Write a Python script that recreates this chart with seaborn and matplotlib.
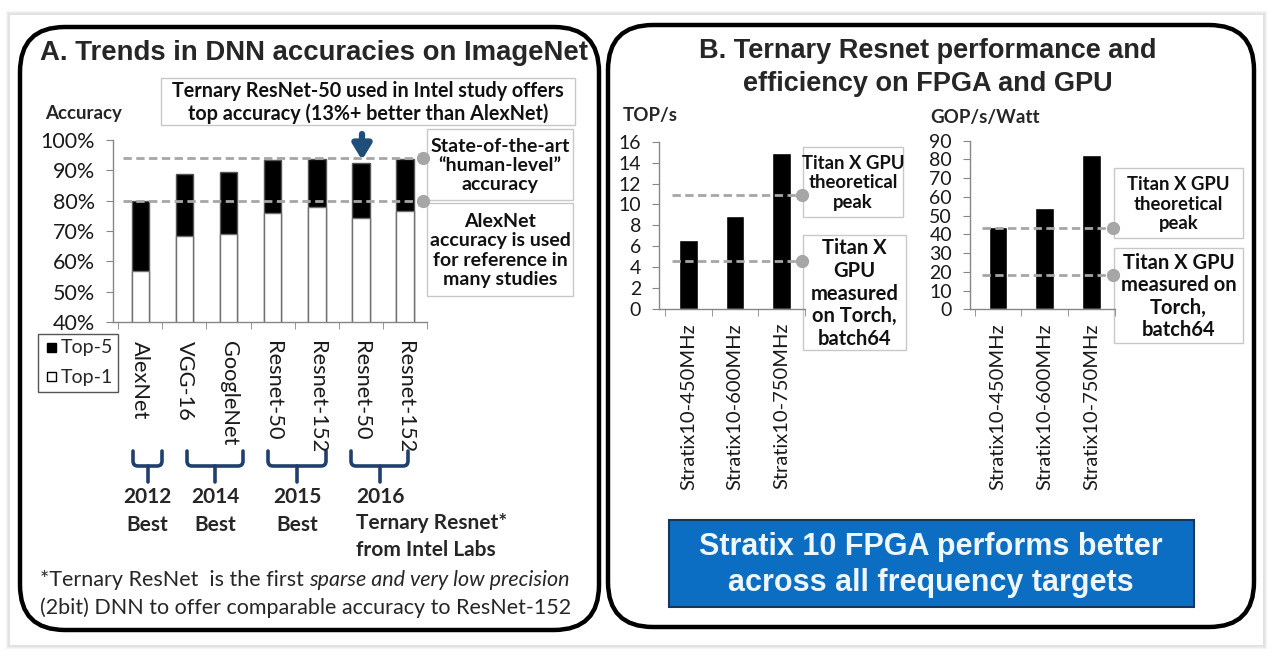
import numpy as np
import pandas as pd
import matplotlib
matplotlib.use("Agg")
import matplotlib.pyplot as plt
import seaborn as sns
from matplotlib.patches import Rectangle, FancyBboxPatch, PathPatch
from matplotlib.path import Path
from matplotlib.ticker import FuncFormatter

# ---------------- data ----------------
models = ["AlexNet", "VGG-16", "GoogleNet", "Resnet-50", "Resnet-152", "Resnet-50", "Resnet-152"]
model_keys = ["AlexNet", "VGG-16", "GoogleNet", "Resnet-50", "Resnet-152", "T-Resnet-50", "T-Resnet-152"]
top1 = [0.568, 0.683, 0.690, 0.760, 0.779, 0.742, 0.767]
top5 = [0.800, 0.888, 0.893, 0.933, 0.938, 0.924, 0.936]
human_level = 0.94
alexnet_ref = 0.80

fpga = ["Stratix10-450MHz", "Stratix10-600MHz", "Stratix10-750MHz"]
tops = [6.6, 8.9, 14.9]
tops_peak = 10.9
tops_measured = 4.6
gops_watt = [44.1, 53.9, 82.3]
gops_peak = 43.5
gops_measured = 18.3

sns.set_style("white")
CAL = ["Lato", "DejaVu Sans"]
ARIAL = ["Liberation Sans", "DejaVu Sans"]
plt.rcParams["font.family"] = CAL
GRAY = "#a6a6a6"
AXC = "#868686"
NAVY = "#1f3f6e"

W, H = 1280, 660
fig = plt.figure(figsize=(12.8, 6.6), dpi=100)
fig.patch.set_facecolor("white")

bg = fig.add_axes([0, 0, 1, 1], zorder=0)
bg.set_xlim(0, W)
bg.set_ylim(H, 0)
bg.axis("off")


def px_axes(x0, y0, x1, y1):
    return fig.add_axes([x0 / W, 1 - y1 / H, (x1 - x0) / W, (y1 - y0) / H], zorder=2)


# card + shadow
for i, c in enumerate(["#f4f4f4", "#ececec", "#e2e2e2"]):
    d = 4 - i
    bg.add_patch(Rectangle((10 - d, 15 - d), 1253 + 2 * d, 630 + 2 * d, color=c, lw=0))
bg.add_patch(Rectangle((10, 15), 1253, 630, color="white", lw=0))

# panels
for x0, y0, x1, y1 in [(20, 27, 599, 630), (608, 25, 1254, 627)]:
    bg.add_patch(FancyBboxPatch((x0, y0), x1 - x0, y1 - y0,
                                boxstyle="round,pad=0,rounding_size=45",
                                fc="none", ec="black", lw=3.2))


def note_box(x0, y0, x1, y1, lines, size=12.5):
    bg.add_patch(Rectangle((x0, y0), x1 - x0, y1 - y0, fc="white", ec="#c8c8c8", lw=1))
    bg.text((x0 + x1) / 2, (y0 + y1) / 2 + 1, "\n".join(lines), ha="center", va="center",
            fontsize=size, fontweight="bold", linespacing=1.16, color="#111111")


def ref_line(ax, x0, x1, y):
    ax.plot([x0, x1], [y, y], ls=(0, (3, 1.6)), color=GRAY, lw=2, clip_on=False, zorder=5)
    ax.plot([x1], [y], "o", color=GRAY, ms=8.5, clip_on=False, zorder=6)


def style_axes(ax, labelsize, pad):
    for s in ["top", "right"]:
        ax.spines[s].set_visible(False)
    for s in ["left", "bottom"]:
        ax.spines[s].set_color(AXC)
        ax.spines[s].set_linewidth(1)
    ax.set_facecolor("none")
    ax.tick_params(axis="y", which="major", direction="out", length=5, color=AXC,
                   labelsize=labelsize, labelcolor="#1a1a1a", pad=pad, left=True)
    ax.tick_params(axis="x", which="major", length=0)
    ax.tick_params(axis="x", which="minor", direction="out", length=5, color=AXC, bottom=True)
    ax.set_xlabel("")
    ax.set_ylabel("")


def brace(x0, x1, ytop=451, ymid=466, ybot=482, r=5):
    xc = (x0 + x1) / 2
    verts = [(x0, ytop), (x0, ymid - r), (x0, ymid), (x0 + r, ymid),
             (x1 - r, ymid), (x1, ymid), (x1, ymid - r), (x1, ytop)]
    codes = [Path.MOVETO, Path.LINETO, Path.CURVE3, Path.CURVE3,
             Path.LINETO, Path.CURVE3, Path.CURVE3, Path.LINETO]
    bg.add_patch(PathPatch(Path(verts, codes), fc="none", ec=NAVY, lw=2.6, capstyle="round"))
    bg.plot([xc, xc], [ymid, ybot], color=NAVY, lw=2.6)


# ---------------- panel A ----------------
bg.text(40, 53, "A. Trends in DNN accuracies on ImageNet", fontsize=19.8, fontweight="bold",
        family=ARIAL, ha="left", va="center")

df_acc = pd.DataFrame({"model": model_keys, "top1": top1, "top5": top5})
axA = px_axes(113, 140, 427, 322)
sns.barplot(data=df_acc, x="model", y="top5", color="black", saturation=1, width=0.4,
            edgecolor="#555555", linewidth=1, ax=axA)
sns.barplot(data=df_acc, x="model", y="top1", color="white", saturation=1, width=0.4,
            edgecolor="#6f6f6f", linewidth=1, ax=axA)
axA.set_xlim(-0.62, 6.5)
axA.set_ylim(0.4, 1.0)
axA.set_yticks(np.arange(0.4, 1.01, 0.1))
axA.yaxis.set_major_formatter(FuncFormatter(lambda v, p: f"{v * 100:.0f}%"))
axA.set_xticks(range(len(models)))
axA.set_xticks(np.arange(-0.5, 6.6, 1), minor=True)
axA.set_xticklabels(models, rotation=270, fontsize=15.7, color="#1a1a1a")
style_axes(axA, 15.5, 8)
axA.tick_params(axis="x", which="major", pad=14)
ref_line(axA, -0.39, 6.42, human_level)
ref_line(axA, -0.39, 6.42, alexnet_ref)

bg.text(45, 113, "Accuracy", fontsize=13.5, fontweight="bold", ha="left", va="center")
note_box(161, 78, 575, 125, ["Ternary ResNet-50 used in Intel study offers",
                             "top accuracy (13%+ better than AlexNet)"], size=14.2)
note_box(427, 129, 573, 200, ["State-of-the-art", "\u201chuman-level\u201d", "accuracy"], size=14)
note_box(427, 203, 573, 296, ["AlexNet", "accuracy is used", "for reference in", "many studies"], size=14)

# arrow to ternary resnet-50
bg.annotate("", xy=(362, 160), xytext=(362, 134),
            arrowprops=dict(arrowstyle="-|>,head_width=0.55,head_length=0.9",
                            color="#1f4e79", lw=4.5, shrinkA=0, shrinkB=0))

# legend box
bg.add_patch(Rectangle((38, 334), 80, 58, fc="white", ec="#555555", lw=1))
bg.add_patch(Rectangle((47, 343), 9, 9, fc="black", ec="black", lw=1))
bg.add_patch(Rectangle((47, 372), 9, 9, fc="white", ec="black", lw=1))
bg.text(61, 348, "Top-5", fontsize=14, va="center", ha="left")
bg.text(61, 377, "Top-1", fontsize=14, va="center", ha="left")

# year braces
for x0, x1 in [(133, 162), (187, 243), (268, 326), (351, 408)]:
    brace(x0, x1)

for xc, yr in [(147, "2012"), (215, "2014"), (297, "2015")]:
    bg.text(xc, 497, yr, fontsize=15, fontweight="bold", ha="center", va="center")
    bg.text(xc, 525, "Best", fontsize=15, fontweight="bold", ha="center", va="center")
bg.text(356, 497, "2016", fontsize=15, fontweight="bold", ha="left", va="center")
bg.text(356, 523, "Ternary Resnet*", fontsize=15, fontweight="bold", ha="left", va="center")
bg.text(356, 550, "from Intel Labs", fontsize=15, fontweight="bold", ha="left", va="center")

t1 = bg.text(40, 580, "*Ternary ResNet  is the first ", fontsize=15.5, ha="left", va="center")
fig.canvas.draw()
bb = t1.get_window_extent()
x_it = bb.x1 * W / fig.bbox.width
bg.text(x_it, 580, "sparse and very low precision", fontsize=15.5, style="italic",
        ha="left", va="center")
bg.text(40, 608, "(2bit) DNN to offer comparable accuracy to ResNet-152", fontsize=15.5,
        ha="left", va="center")

# ---------------- panel B ----------------
bg.text(928, 51, "B. Ternary Resnet performance and", fontsize=19.5, fontweight="bold",
        family=ARIAL, ha="center", va="center")
bg.text(928, 84, "efficiency on FPGA and GPU", fontsize=19.5, fontweight="bold",
        family=ARIAL, ha="center", va="center")

df_fpga = pd.DataFrame({"device": fpga, "tops": tops, "gops_watt": gops_watt})

axT = px_axes(659, 141.7, 805, 309)
sns.barplot(data=df_fpga, x="device", y="tops", color="black", saturation=1, width=0.4, ax=axT)
axT.set_xlim(-0.63, 2.5)
axT.set_ylim(0, 16)
axT.set_yticks(range(0, 17, 2))
axT.set_xticks(range(3))
axT.set_xticks(np.arange(-0.5, 2.6, 1), minor=True)
axT.set_xticklabels(fpga, rotation=90, fontsize=14.5, color="#1a1a1a")
style_axes(axT, 14, 8)
axT.tick_params(axis="x", which="major", pad=10)
ref_line(axT, -0.35, 2.44, tops_peak)
ref_line(axT, -0.35, 2.44, tops_measured)

axG = px_axes(970, 140.7, 1115, 309.3)
sns.barplot(data=df_fpga, x="device", y="gops_watt", color="black", saturation=1, width=0.4, ax=axG)
axG.set_xlim(-0.6, 2.5)
axG.set_ylim(0, 90)
axG.set_yticks(range(0, 91, 10))
axG.set_xticks(range(3))
axG.set_xticks(np.arange(-0.5, 2.6, 1), minor=True)
axG.set_xticklabels(fpga, rotation=90, fontsize=14.5, color="#1a1a1a")
style_axes(axG, 14, 8)
axG.tick_params(axis="x", which="major", pad=10)
ref_line(axG, -0.34, 2.45, gops_peak)
ref_line(axG, -0.34, 2.45, gops_measured)

bg.text(623, 116, "TOP/s", fontsize=13.5, fontweight="bold", ha="left", va="center")
bg.text(930, 117, "GOP/s/Watt", fontsize=13.5, fontweight="bold", ha="left", va="center")

note_box(803, 147, 903, 217, ["Titan X GPU", "theoretical", "peak"], size=13.3)
note_box(803, 235, 906, 350, ["Titan X", "GPU", "measured", "on Torch,", "batch64"], size=14.5)
note_box(1114, 168, 1243, 238, ["Titan X GPU", "theoretical", "peak"], size=13.3)
note_box(1114, 248, 1243, 343, ["Titan X GPU", "measured on", "Torch,", "batch64"], size=14.5)

bg.add_patch(Rectangle((669, 520), 525, 87, fc="#0b6ec2", ec="#17365d", lw=1.5))
bg.text(931, 547, "Stratix 10 FPGA performs better", fontsize=22, fontweight="bold",
        family=ARIAL, color="#eef7fd", ha="center", va="center")
bg.text(931, 583, "across all frequency targets", fontsize=22, fontweight="bold",
        family=ARIAL, color="#eef7fd", ha="center", va="center")

fig.savefig("out.png", dpi=100, facecolor="white")
